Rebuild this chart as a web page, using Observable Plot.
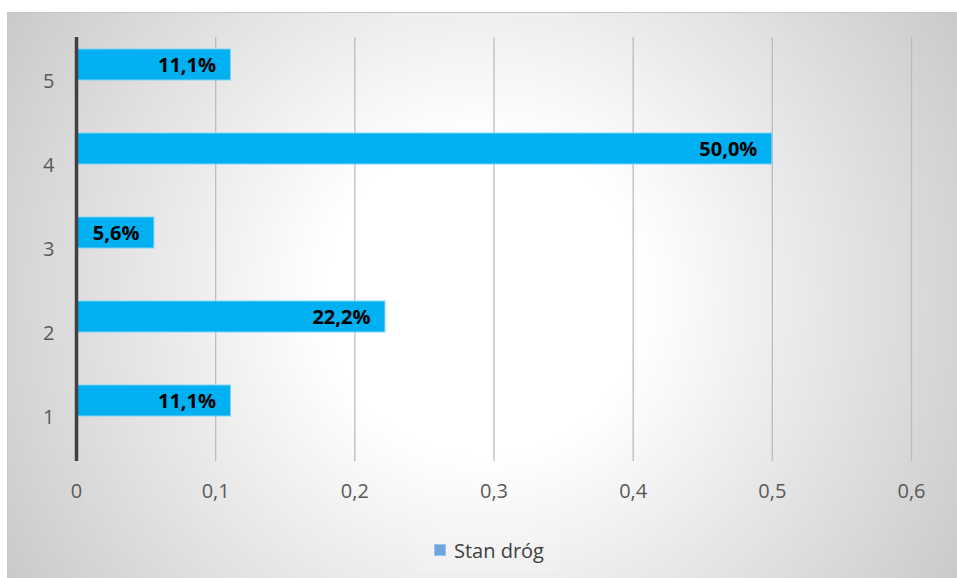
<!DOCTYPE html>
<html>
<head>
<meta charset="utf-8">
<script src="https://cdn.jsdelivr.net/npm/d3@7"></script>
<script src="https://cdn.jsdelivr.net/npm/@observablehq/plot@0.6"></script>
<style>
  html, body { margin: 0; padding: 0; background: #ffffff; }
  body { width: 957px; height: 578px; position: relative; overflow: hidden; font-family: "Open Sans", sans-serif; }
  #frame {
    position: absolute; left: 7px; top: 12px; width: 960px; height: 580px;
    border-top: 1px solid #c6c6c6; border-left: 1px solid #c6c6c6;
    background: radial-gradient(circle farthest-corner at 475px 283px, #ffffff 0%, #ffffff 28%, #c8c8c8 100%);
    box-sizing: border-box;
  }
  #chart { position: absolute; left: 0; top: 0; }
  #legend {
    position: absolute; left: 409px; top: 515px; width: 144px; height: 44px;
    display: flex; align-items: center; justify-content: center; gap: 8px;
    font-size: 20px; color: #404040; background: rgba(255,255,255,0.12);
  }
  #legend .sw { width: 12px; height: 12px; background: #6ea6dc; border: 1px solid #9cc3e8; box-sizing: border-box; }
</style>
</head>
<body>
<div id="frame">
  <div id="chart"></div>
  <div id="legend"><span class="sw"></span><span>Stan dróg</span></div>
</div>
<script>
const categories = ["1", "2", "3", "4", "5"];
const values = [0.111, 0.222, 0.056, 0.5, 0.111];
const valueLabels = ["11,1%", "22,2%", "5,6%", "50,0%", "11,1%"];
const xTicks = [0, 0.1, 0.2, 0.3, 0.4, 0.5, 0.6];
const xTickLabels = ["0", "0,1", "0,2", "0,3", "0,4", "0,5", "0,6"];
const seriesName = "Stan dróg";

const data = categories.map((c, i) => ({cat: c, value: values[i], label: valueLabels[i]}));

const chart = Plot.plot({
  width: 950,
  height: 510,
  marginLeft: 68,
  marginRight: 47,
  marginTop: 24,
  marginBottom: 62,
  style: {background: "transparent", fontFamily: "'Open Sans', sans-serif", fontSize: "20px", color: "#595959", overflow: "visible"},
  x: {domain: [0, 0.6], ticks: xTicks, tickFormat: (d) => xTickLabels[xTicks.indexOf(d)] ?? d, tickSize: 0, tickPadding: 22, label: null},
  y: {domain: categories.slice().reverse(), padding: 0, tickSize: 0, tickPadding: 22, label: null},
  marks: [
    Plot.ruleX(xTicks.slice(1), {stroke: "#bcbcbc", strokeWidth: 1.3}),
    Plot.barX(data, {x: "value", y: "cat", insetTop: 10, insetBottom: 43, fill: "#00b0f0", stroke: "#7fd6f7", strokeWidth: 1}),
    Plot.ruleX([0], {stroke: "#404040", strokeWidth: 3.5}),
    Plot.text(data, {x: "value", y: "cat", text: "label", textAnchor: "end", dx: -15, dy: -16, fill: "#000000", fontWeight: "bold", fontSize: 20}),
    Plot.axisX({ticks: xTicks, tickFormat: (d) => xTickLabels[xTicks.indexOf(d)], tickSize: 0, tickPadding: 22, fill: "#595959", fontSize: 20, label: null}),
    Plot.axisY({tickSize: 0, tickPadding: 22, fill: "#595959", fontSize: 20, label: null})
  ]
});
document.getElementById("chart").appendChild(chart);
</script>
</body>
</html>
